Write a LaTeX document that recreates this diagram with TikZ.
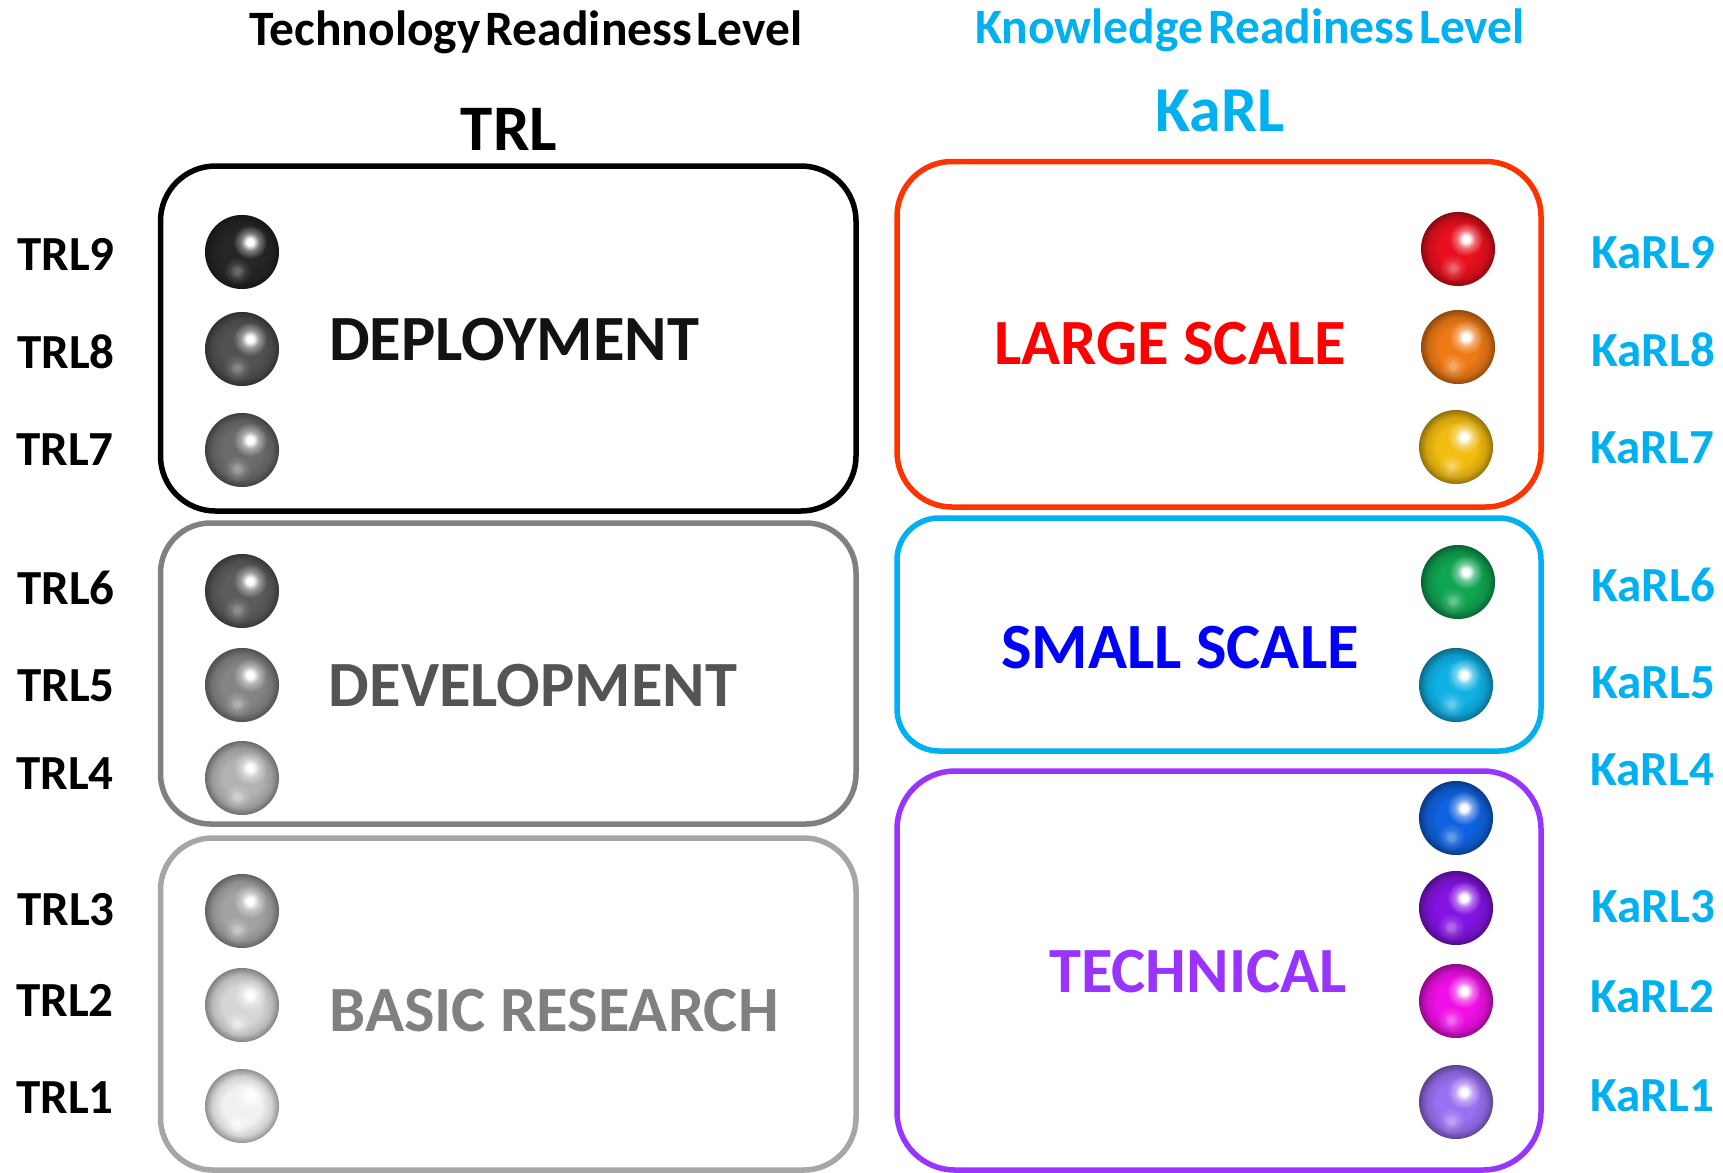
\documentclass[tikz,border=0pt]{standalone}
\usepackage{fontspec}
\setmainfont{Carlito}[BoldFont={Carlito Bold}]
\usetikzlibrary{fadings,calc}
\pgfdeclareradialshading{rimsh}{\pgfpoint{0bp}{0bp}}{color(0bp)=(pgftransparent!100); color(13bp)=(pgftransparent!100); color(20bp)=(pgftransparent!87); color(25bp)=(pgftransparent!60); color(100bp)=(pgftransparent!60)}
\pgfdeclarefading{rim}{\pgfuseshading{rimsh}}
\pgfdeclareradialshading{glowsh}{\pgfpoint{0bp}{0bp}}{color(0bp)=(pgftransparent!0); color(5bp)=(pgftransparent!0); color(13bp)=(pgftransparent!60); color(25bp)=(pgftransparent!100); color(100bp)=(pgftransparent!100)}
\pgfdeclarefading{glow}{\pgfuseshading{glowsh}}
\definecolor{trlsky}{HTML}{00B0F0}
\definecolor{karlred}{HTML}{FF3300}
\definecolor{karlpurple}{HTML}{9933FF}
\definecolor{orbred}{HTML}{E8101E}
\definecolor{orborange}{HTML}{EE7A16}
\definecolor{orbgold}{HTML}{F2BC10}
\definecolor{orbgreen}{HTML}{10A552}
\definecolor{orbcyan}{HTML}{10B2E6}
\definecolor{orbblue}{HTML}{1062E0}
\definecolor{orbviolet}{HTML}{8414E2}
\definecolor{orbmagenta}{HTML}{F010E6}
\definecolor{orblilac}{HTML}{9A70F2}
\tikzset{
  panel/.style={draw=#1,line width=5.5pt,fill=none},
  lab/.style={inner sep=0pt,font=\fontsize{49}{49}\selectfont\bfseries,anchor=center},
  bandtxt/.style={inner sep=0pt,font=\fontsize{64.5}{64.5}\selectfont\bfseries,anchor=center},
  toptxt/.style={inner sep=0pt,font=\fontsize{49.5}{49.5}\selectfont\bfseries},
}
\newcommand{\tightwords}{\spaceskip=5pt\relax}
\newcommand{\orb}[5]{% name, x, y, colour, reflection opacity
  \node[circle,minimum size=74pt,inner sep=0pt,fill=#4] (#1) at (#2,#3) {};
  \fill[black,path fading=rim,fit fading=true] (#1) circle[radius=37];
  \fill[white,path fading=glow,fit fading=true] ($(#1)+(8,-10)$) circle[radius=17];
  \fill[white,opacity=#5,path fading=glow,fit fading=true] ($(#1)+(-5,19)$) circle[radius=14];
}
\begin{document}
\begin{tikzpicture}[x=1pt,y=-1pt]
\useasboundingbox (0,0) rectangle (1723,1172);
% panels
\draw[panel=black,rounded corners=55pt] (160.5,166) rectangle (856,511);
\draw[panel=black!50,rounded corners=50pt] (160.5,523) rectangle (856,824);
\draw[panel=black!35,rounded corners=52pt] (160.5,838) rectangle (856,1170);
\draw[panel=karlred,rounded corners=55pt] (897,161.5) rectangle (1541,507);
\draw[panel=trlsky,rounded corners=42pt] (897,518) rectangle (1541,751);
\draw[panel=karlpurple,rounded corners=58pt] (897,771) rectangle (1541,1170);
% titles
\node[toptxt] (t1) at (526,32) {\tightwords Technology Readiness Level};
\node[toptxt,text=trlsky] (t2) at (1250,30) {\tightwords Knowledge Readiness Level};
\node[inner sep=0pt,font=\fontsize{65}{65}\selectfont\bfseries] (t3) at (509,129) {TRL};
\node[inner sep=0pt,font=\fontsize{64}{64}\selectfont\bfseries,text=trlsky] (t4) at (1220,111) {KaRL};
% bands
\node[bandtxt,text=black!93] (b1) at (514,340) {DEPLOYMENT};
\node[bandtxt,text=black!67] (b2) at (533,686) {DEVELOPMENT};
\node[bandtxt,text=black!50] (b3) at (554,1011) {BASIC RESEARCH};
\node[bandtxt,text=red] (b4) at (1170,344) {LARGE SCALE};
\node[bandtxt,text=blue] (b5) at (1180,648) {SMALL SCALE};
\node[bandtxt,text=karlpurple] (b6) at (1198,972) {TECHNICAL};
% left labels
\node[lab] (l9) at (66,254) {TRL9};
\node[lab] (l8) at (66,352) {TRL8};
\node[lab] (l7) at (65,450) {TRL7};
\node[lab] (l6) at (66,588) {TRL6};
\node[lab] (l5) at (66,686) {TRL5};
\node[lab] (l4) at (65,774) {TRL4};
\node[lab] (l3) at (66,910) {TRL3};
\node[lab] (l2) at (65,1000) {TRL2};
\node[lab] (l1) at (65,1098) {TRL1};
% right labels
\node[lab,text=trlsky] (r9) at (1653,253) {KaRL9};
\node[lab,text=trlsky] (r8) at (1653,350) {KaRL8};
\node[lab,text=trlsky] (r7) at (1652,448) {KaRL7};
\node[lab,text=trlsky] (r6) at (1653,585) {KaRL6};
\node[lab,text=trlsky] (r5) at (1653,683) {KaRL5};
\node[lab,text=trlsky] (r4) at (1652,770) {KaRL4};
\node[lab,text=trlsky] (r3) at (1653,907) {KaRL3};
\node[lab,text=trlsky] (r2) at (1652,997) {KaRL2};
\node[lab,text=trlsky] (r1) at (1652,1096) {KaRL1};
% left spheres
\orb{a9}{242}{252}{black!85}{0.3}
\orb{a8}{242}{349}{black!68}{0.3}
\orb{a7}{242}{450}{black!58}{0.35}
\orb{a6}{242}{591}{black!64}{0.3}
\orb{a5}{242}{685}{black!48}{0.35}
\orb{a4}{242}{778}{black!30}{0.4}
\orb{a3}{242}{911}{black!36}{0.4}
\orb{a2}{242}{1005}{black!16}{0.5}
\orb{a1}{242}{1106}{black!6}{0.6}
% right spheres
\orb{k9}{1458}{249}{orbred}{0.35}
\orb{k8}{1458}{347}{orborange}{0.35}
\orb{k7}{1456}{447}{orbgold}{0.35}
\orb{k6}{1458}{582}{orbgreen}{0.35}
\orb{k5}{1456}{685}{orbcyan}{0.35}
\orb{k4}{1456}{818}{orbblue}{0.35}
\orb{k3}{1456}{908}{orbviolet}{0.35}
\orb{k2}{1456}{1001}{orbmagenta}{0.35}
\orb{k1}{1456}{1102}{orblilac}{0.35}
\end{tikzpicture}
\end{document}
